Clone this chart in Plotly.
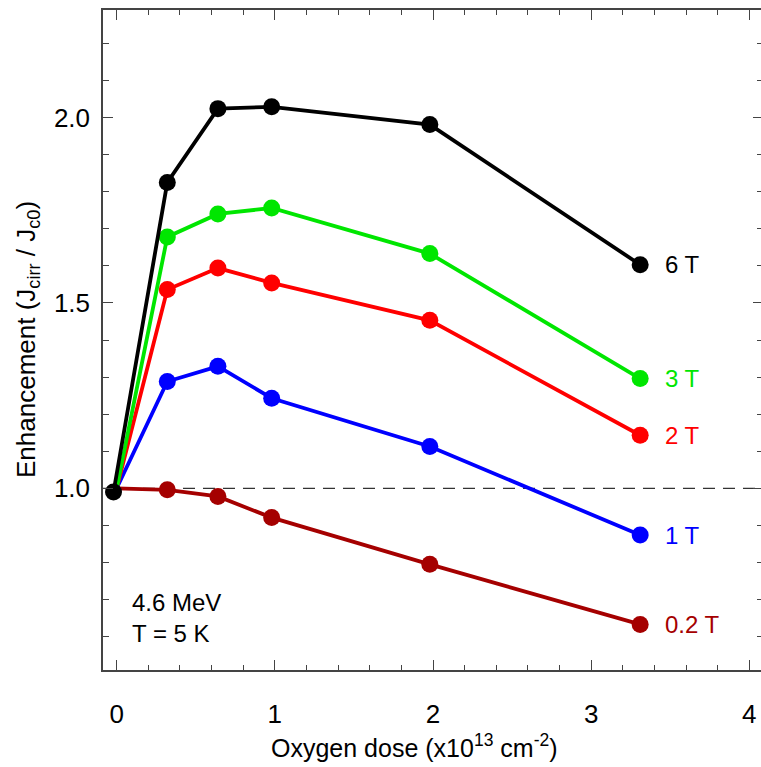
import plotly.graph_objects as go

# Data
dose = [0.0, 0.32, 0.64, 0.98, 1.98, 3.31]
first_dose = -0.02
enh_02T = [1.0, 0.996, 0.978, 0.921, 0.795, 0.633]
enh_1T = [1.0, 1.288, 1.329, 1.243, 1.113, 0.874]
enh_2T = [1.0, 1.536, 1.594, 1.554, 1.453, 1.143]
enh_3T = [1.0, 1.678, 1.740, 1.756, 1.633, 1.296]
enh_6T = [0.99, 1.825, 2.024, 2.029, 1.981, 1.603]

series = [
    ("0.2 T", enh_02T, "#A50000"),
    ("1 T", enh_1T, "#0000FF"),
    ("2 T", enh_2T, "#FF0000"),
    ("3 T", enh_3T, "#00E600"),
    ("6 T", enh_6T, "#000000"),
]

x_range = [-0.0866, 4.074]
y_range = [0.51, 2.29]

fig = go.Figure()

# reference line at 1.0
fig.add_shape(type="line", xref="paper", x0=0, x1=1, yref="y", y0=1.0, y1=1.0,
              line=dict(color="#333333", width=1.3, dash="12px,8px"), layer="below")

for name, ys, col in series:
    xs = list(dose)
    sizes = [17] * len(xs)
    if name == "6 T":
        xs[0] = first_dose
    else:
        sizes[0] = 0
    fig.add_trace(go.Scatter(x=xs, y=ys, mode="lines+markers", name=name,
                             line=dict(color=col, width=3.8),
                             marker=dict(color=col, size=sizes, opacity=1, line=dict(width=0)),
                             showlegend=False, hoverinfo="skip"))
    fig.add_annotation(x=xs[-1], y=ys[-1], text=name, showarrow=False,
                       xanchor="left", yanchor="middle", xshift=23,
                       font=dict(family="Liberation Sans", size=24, color=col))

# invisible trace to make right mirror-tick axis render
fig.add_trace(go.Scatter(x=[dose[0]], y=[enh_02T[0]], yaxis="y2", mode="markers",
                         marker=dict(opacity=0), showlegend=False, hoverinfo="skip"))

axis_col = "#444444"
fig.update_layout(
    width=761, height=767,
    margin=dict(l=103, r=0, t=10, b=97),
    paper_bgcolor="white", plot_bgcolor="white",
    xaxis=dict(range=x_range, showgrid=False, zeroline=False,
               showline=True, linecolor=axis_col, linewidth=1.5, mirror="ticks",
               ticks="inside", ticklen=10, tickwidth=1.3, tickcolor=axis_col,
               tick0=0, dtick=1,
               minor=dict(dtick=0.2, ticks="inside", ticklen=5, tickwidth=1.1, tickcolor=axis_col),
               tickfont=dict(family="Liberation Sans Narrow, Liberation Sans", size=26, color="black"),
               ticklabelstandoff=20),
    yaxis=dict(range=y_range, showgrid=False, zeroline=False,
               showline=True, linecolor=axis_col, linewidth=1.5, mirror=False,
               ticks="inside", ticklen=10, tickwidth=1.3, tickcolor=axis_col,
               tick0=0, dtick=0.5, tickformat=".1f",
               minor=dict(dtick=0.1, ticks="inside", ticklen=6, tickwidth=1.1, tickcolor=axis_col),
               tickfont=dict(family="Liberation Sans", size=26, color="black"),
               ticklabelstandoff=6),
    yaxis2=dict(range=y_range, overlaying="y", side="right", showgrid=False, zeroline=False,
                showline=False, showticklabels=False,
                ticks="inside", ticklen=8, tickwidth=1.3, tickcolor=axis_col,
                tick0=0, dtick=0.5,
                minor=dict(dtick=0.1, ticks="inside", ticklen=4, tickwidth=1.1, tickcolor=axis_col)),
)

# axis titles
fig.add_annotation(xref="paper", yref="paper", x=(414 - 103) / 658, y=(670 - 746) / 660,
                   text="Oxygen dose (x10<sup>13</sup> cm<sup>-2</sup>)", showarrow=False,
                   xanchor="center", yanchor="middle",
                   font=dict(family="Liberation Sans Narrow, Liberation Sans", size=25, color="black"))
fig.add_annotation(xref="paper", yref="paper", x=(27 - 103) / 658, y=0.5,
                   text="Enhancement (J<sub>cirr</sub> / J<sub>c0</sub>)", showarrow=False,
                   textangle=-90, xanchor="center", yanchor="middle",
                   font=dict(family="Liberation Sans Narrow, Liberation Sans", size=26, color="black"))

# condition annotation
fig.add_annotation(xref="paper", yref="paper", x=(130 - 103) / 658, y=(670 - 618) / 660,
                   text="4.6 MeV<br>T = 5 K", showarrow=False, align="left",
                   xanchor="left", yanchor="middle",
                   font=dict(family="Liberation Sans", size=24, color="black"))

fig.write_html("out.html")
